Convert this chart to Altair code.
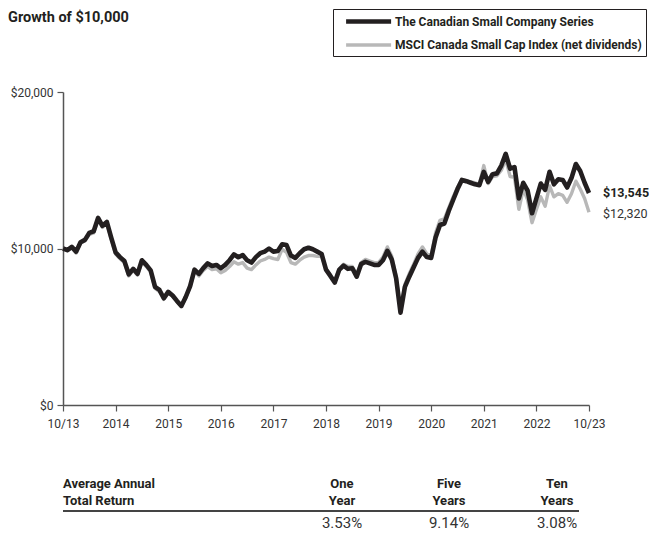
import altair as alt
import pandas as pd

# ---------------- data ----------------
months = list(range(121))  # 10/2013 .. 10/2023, monthly

fund = [10000, 9900, 10100, 9800, 10400, 10550, 11000, 11100, 11950, 11450,
        11700, 10700, 9750, 9450, 9200, 8350, 8700, 8380, 9250, 8950,
        8600, 7550, 7350, 6820, 7230, 7000, 6650, 6330, 6900, 7600,
        8650, 8380, 8750, 9050, 8880, 8950, 8740, 8950, 9250, 9630,
        9440, 9580, 9250, 9100, 9450, 9700, 9800, 10000, 9800, 9840,
        10270, 10220, 9550, 9400, 9700, 9950, 10050, 9950, 9800, 9650,
        8650, 8250, 7820, 8630, 8900, 8700, 8740, 8200, 9000, 9150,
        9050, 8950, 8950, 9250, 9850, 9300, 8100, 5900, 7550, 8200,
        8800, 9400, 9800, 9450, 9400, 10700, 11500, 11600, 12400, 13100,
        13800, 14380, 14300, 14200, 14100, 14050, 14900, 14250, 14750, 14800,
        15300, 16050, 15100, 15200, 13200, 14200, 13700, 12250, 13200, 14150,
        13750, 14900, 14100, 14420, 14380, 13900, 14500, 15400, 14950, 14200,
        13545]

index = [10000, 9850, 10050, 9700, 10350, 10500, 10900, 11000, 11850, 11350,
         11600, 10600, 9650, 9350, 9100, 8250, 8600, 8300, 9150, 8850,
         8500, 7450, 7250, 6750, 7150, 6950, 6600, 6300, 6850, 7550,
         8550, 8250, 8600, 8850, 8650, 8700, 8450, 8600, 8850, 9150,
         9000, 9100, 8750, 8650, 8950, 9200, 9300, 9450, 9350, 9300,
         9950, 9750, 9100, 9000, 9250, 9450, 9550, 9550, 9500, 9500,
         8700, 8300, 7900, 8700, 9000, 8850, 8850, 8350, 9100, 9300,
         9200, 9100, 9100, 9450, 10100, 9500, 8200, 6000, 7700, 8400,
         9000, 9650, 10100, 9650, 9550, 11000, 11800, 11900, 12600, 13300,
         13900, 14400, 14350, 14250, 14200, 14100, 15300, 14150, 14600, 14650,
         15000, 15700, 14600, 14550, 12500, 13800, 13100, 11650, 12500, 13300,
         12700, 14000, 13300, 13500, 13400, 12950, 13500, 14300, 13800, 13200,
         12320]

series_names = ["The Canadian Small Company Series",
                "MSCI Canada Small Cap Index (net dividends)"]
series_colors = ["#231f20", "#b8b8b8"]
series_widths = [4.6, 3.4]

x_ticks = [0, 12, 24, 36, 48, 60, 72, 84, 96, 108, 120]
x_tick_labels = ["10/13", "2014", "2015", "2016", "2017", "2018",
                 "2019", "2020", "2021", "2022", "10/23"]
y_ticks = [0, 10000, 20000]

end_labels = ["$13,545", "$12,320"]

table_title = ["Average Annual", "Total Return"]
period_top = ["One", "Five", "Ten"]
period_bottom = ["Year", "Years", "Years"]
returns = ["3.53%", "9.14%", "3.08%"]

FONT = "Roboto"
INK = "#231f20"

df = pd.DataFrame({
    "month": months * 2,
    "value": fund + index,
    "series": [series_names[0]] * len(fund) + [series_names[1]] * len(index),
})

label_expr = "[" + ",".join("'%s'" % t for t in x_tick_labels) + "][round(datum.value / 12)]"

x_enc = alt.X("month:Q",
              scale=alt.Scale(domain=[0, 120], nice=False, zero=False),
              axis=alt.Axis(values=x_ticks, labelExpr=label_expr, title=None,
                            grid=False, tickSize=6, labelPadding=7,
                            labelFontSize=12, labelFlush=False,
                            labelOverlap=False))
y_enc = alt.Y("value:Q",
              scale=alt.Scale(domain=[0, 20000], nice=False),
              axis=alt.Axis(values=y_ticks, format="$,.0f", title=None,
                            grid=False, tickSize=6, labelPadding=4,
                            labelFontSize=12, labelFlush=False,
                            labelOverlap=False))

legend = alt.Legend(title=None, orient="none", legendX=270, legendY=-83,
                    symbolType="M0.1,0L7.6,0", symbolSize=144,
                    strokeColor=INK, padding=4,
                    labelFont=FONT, labelFontSize=12,
                    labelFontWeight="bold", labelColor=INK,
                    labelLimit=500, labelOffset=41, rowPadding=6)
color_enc = alt.Color("series:N",
                      scale=alt.Scale(domain=series_names, range=series_colors),
                      legend=legend)
width_enc = alt.StrokeWidth("series:N",
                            scale=alt.Scale(domain=series_names, range=series_widths),
                            legend=legend)

base = alt.Chart(df)
gray_line = base.transform_filter(alt.datum.series == series_names[1]).mark_line(
    strokeJoin="round", strokeCap="butt").encode(x=x_enc, y=y_enc, color=color_enc,
                                                 strokeWidth=width_enc)
black_line = base.transform_filter(alt.datum.series == series_names[0]).mark_line(
    strokeJoin="round", strokeCap="butt").encode(x=x_enc, y=y_enc, color=color_enc,
                                                 strokeWidth=width_enc)

end_df = pd.DataFrame({"month": [months[-1], months[-1]],
                       "value": [fund[-1], index[-1]],
                       "label": end_labels})
end_black = alt.Chart(end_df.iloc[[0]]).mark_text(
    align="left", baseline="middle", dx=14, dy=0, font=FONT, fontSize=12.5,
    fontWeight="bold", color=INK).encode(x="month:Q", y="value:Q", text="label:N")
end_gray = alt.Chart(end_df.iloc[[1]]).mark_text(
    align="left", baseline="middle", dx=14, dy=2, font=FONT, fontSize=12.5,
    fontWeight="normal", color="#333333").encode(x="month:Q", y="value:Q", text="label:N")


def label(text, x, y, size, weight="normal", align="left", color=INK):
    return alt.Chart(pd.DataFrame({"t": [text]})).mark_text(
        align=align, baseline="middle", font=FONT, fontSize=size,
        fontWeight=weight, color=color).encode(
        x=alt.value(x), y=alt.value(y), text="t:N")


layers = [gray_line, black_line, end_black, end_gray,
          label("Growth of $10,000", -55, -74, 14.5, "bold")]

# table
layers.append(label(table_title[0], 0, 392, 13, "bold"))
layers.append(label(table_title[1], 0, 409, 13, "bold"))
col_x = [279, 386, 494]
for cx, top, bot, r in zip(col_x, period_top, period_bottom, returns):
    layers.append(label(top, cx, 392, 13, "bold", "center"))
    layers.append(label(bot, cx, 409, 13, "bold", "center"))
    layers.append(label(r, cx, 431, 15, "normal", "center", "#333333"))
layers.append(alt.Chart(pd.DataFrame({"a": [0]})).mark_rule(
    color="#444444", strokeWidth=2).encode(
    x=alt.value(0), x2=alt.value(516), y=alt.value(419)))

chart = alt.layer(*layers).properties(
    width=526, height=313,
    autosize=alt.AutoSizeParams(type="none"),
    padding={"left": 55, "top": 84, "right": 60, "bottom": 127},
    background="white",
).configure_view(stroke=None).configure_axis(
    labelFont=FONT, labelColor="#333333", tickColor="#555555",
    domainColor="#555555", domainWidth=1.5, tickWidth=1.2,
)

chart.save("out.html", embed_options={"renderer": "svg", "actions": False})
